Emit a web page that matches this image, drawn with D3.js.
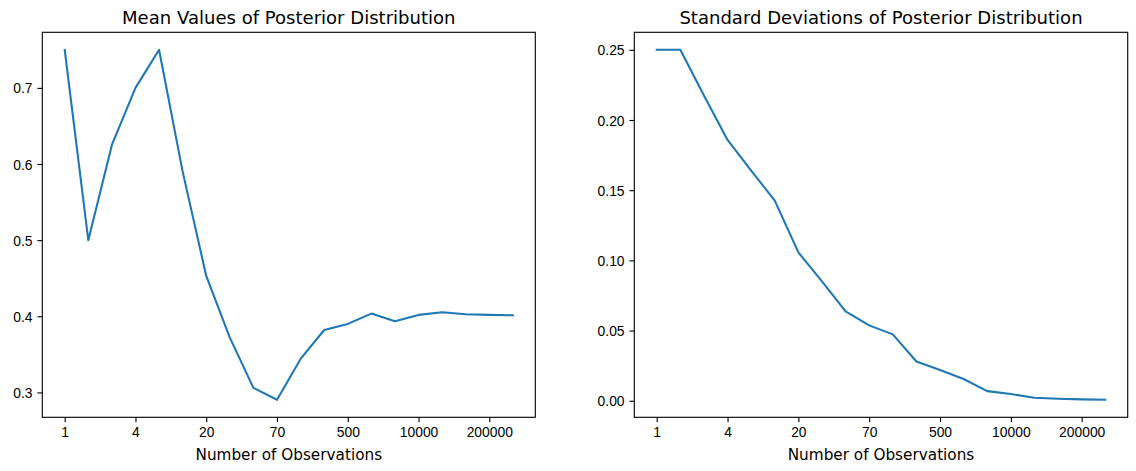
<!DOCTYPE html>
<html>
<head>
<meta charset="utf-8">
<script src="https://cdn.jsdelivr.net/npm/d3@7"></script>
<style>
  body { margin: 0; background: #fff; }
  svg { font-family: "DejaVu Sans", sans-serif; }
</style>
</head>
<body>
<div id="container"></div>
<script>
/* DATA */
const observations = [1, 2, 3, 4, 5, 10, 20, 30, 50, 70, 100, 200, 500, 1000, 5000, 10000, 50000, 100000, 200000, 500000];
const meanValues = [0.75, 0.5, 0.625, 0.7, 0.75, 0.59, 0.453, 0.372, 0.306, 0.2903, 0.344, 0.382, 0.390, 0.4035, 0.3934, 0.4018, 0.4053, 0.4027, 0.4018, 0.4013];
const stdValues = [0.25, 0.25, 0.2174, 0.1858, 0.164, 0.1426, 0.1057, 0.085, 0.0637, 0.0537, 0.0473, 0.028, 0.0219, 0.0155, 0.0069, 0.0048, 0.0021, 0.0014, 0.001, 0.0007];
const tickIndex = [0, 3, 6, 9, 12, 15, 18];
const meanTicks = [0.3, 0.4, 0.5, 0.6, 0.7];
const stdTicks = [0, 0.05, 0.10, 0.15, 0.20, 0.25];

/* CONSTANTS */
const width = 1136, height = 471;
const axTop = 32.3, axBottom = 417.3;
const tickLen = 4.86, tickPad = 4.86;

const svg = d3.select("#container")
  .append("svg")
  .attr("width", width)
  .attr("height", height);

function drawPanel(opts) {
  const { left, right, values, yTicks, fmt, title } = opts;

  const n = values.length;
  const xScale = d3.scaleLinear()
    .domain([-0.05 * (n - 1), (n - 1) * 1.05])
    .range([left, right]);

  const [lo, hi] = d3.extent(values);
  const pad = (hi - lo) * 0.05;
  const yScale = d3.scaleLinear()
    .domain([lo - pad, hi + pad])
    .range([axBottom, axTop]);

  const g = svg.append("g");

  // x axis
  const xAxis = d3.axisBottom(xScale)
    .tickValues(tickIndex)
    .tickFormat(i => observations[i])
    .tickSize(tickLen)
    .tickPadding(tickPad);
  const xg = g.append("g")
    .attr("transform", `translate(0, ${axBottom})`)
    .call(xAxis);
  xg.select(".domain").remove();
  xg.selectAll("line").attr("stroke", "#000").attr("stroke-width", 1.11);
  xg.selectAll("text")
    .attr("y", 20.2).attr("dy", null)
    .style("font-size", "13.89px").attr("fill", "#000");

  // y axis
  const yAxis = d3.axisLeft(yScale)
    .tickValues(yTicks)
    .tickFormat(d3.format(fmt))
    .tickSize(tickLen)
    .tickPadding(tickPad);
  const yg = g.append("g")
    .attr("transform", `translate(${left}, 0)`)
    .call(yAxis);
  yg.select(".domain").remove();
  yg.selectAll("line").attr("stroke", "#000").attr("stroke-width", 1.11);
  yg.selectAll("text")
    .attr("dy", "0.36em")
    .style("font-size", "13.89px").attr("fill", "#000");

  // line
  const lineGen = d3.line()
    .x((d, i) => xScale(i))
    .y(d => yScale(d));

  g.append("path")
    .datum(values)
    .attr("fill", "none")
    .attr("stroke", "#1f77b4")
    .attr("stroke-width", 2.08)
    .attr("stroke-linejoin", "round")
    .attr("stroke-linecap", "square")
    .attr("d", lineGen);

  // frame
  g.append("rect")
    .attr("x", left).attr("y", axTop)
    .attr("width", right - left).attr("height", axBottom - axTop)
    .attr("fill", "none")
    .attr("stroke", "#000")
    .attr("stroke-width", 1.11);

  // title
  g.append("text")
    .attr("x", (left + right) / 2)
    .attr("y", 24.3)
    .attr("text-anchor", "middle")
    .style("font-size", "18.06px")
    .text(title);

  // x label
  g.append("text")
    .attr("x", (left + right) / 2)
    .attr("y", 459.5)
    .attr("text-anchor", "middle")
    .style("font-size", "15.28px")
    .text("Number of Observations");
}

drawPanel({ left: 42.3, right: 535.3, values: meanValues, yTicks: meanTicks, fmt: ".1f",
  title: "Mean Values of Posterior Distribution" });
drawPanel({ left: 634.3, right: 1127.7, values: stdValues, yTicks: stdTicks, fmt: ".2f",
  title: "Standard Deviations of Posterior Distribution" });
</script>
</body>
</html>
